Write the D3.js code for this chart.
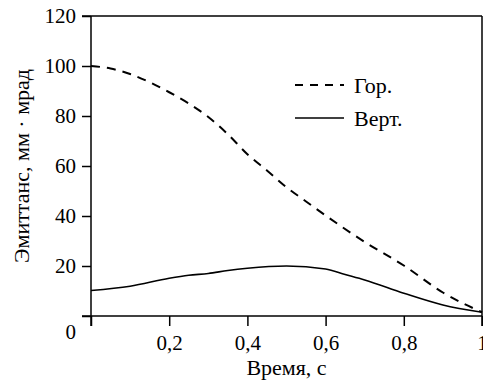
<!DOCTYPE html>
<html lang="ru">
<head>
<meta charset="UTF-8" />
<title>Эмиттанс</title>
<script src="https://cdn.jsdelivr.net/npm/d3@7"></script>
<style>
  body { margin: 0; background: #fff; }
</style>
</head>
<body>
<svg id="chart" width="483" height="387"></svg>
<script>
// Время, с
var timeHor = [0, 0.05, 0.1, 0.15, 0.2, 0.25, 0.3, 0.35, 0.4, 0.45, 0.5, 0.55, 0.6, 0.7, 0.8, 0.9, 1.0];
var horValues = [100, 99, 96.8, 93.5, 89.5, 85, 79.6, 72.7, 64.7, 58.2, 51.5, 45.8, 40.2, 29.6, 20.2, 9.4, 1.5];
var timeVert = [0, 0.1, 0.2, 0.25, 0.3, 0.35, 0.4, 0.5, 0.6, 0.65, 0.7, 0.8, 0.9, 1.0];
var vertValues = [10.2, 11.9, 15.1, 16.3, 17, 18.2, 19.1, 20, 18.8, 16.6, 14.4, 9.1, 4.4, 1.5];
var xTicks = [0, 0.2, 0.4, 0.6, 0.8, 1];
var yTicks = [0, 20, 40, 60, 80, 100, 120];
var legendNames = ["Гор.", "Верт."];

(function () {
  var svg = d3.select("#chart");
  var left = 91, right = 482, top = 16, bottom = 316;
  var serif = "'Liberation Serif', 'Times New Roman', Times, 'DejaVu Serif', serif";

  var x = d3.scaleLinear().domain([0, 1]).range([left, right]);
  var y = d3.scaleLinear().domain([0, 120]).range([bottom, top]);
  var ru = d3.formatLocale({ decimal: ",", thousands: " ", grouping: [3], currency: ["", ""] });
  var fmt = ru.format("~g");

  // top and right frame
  svg.append("line")
    .attr("x1", left - 9).attr("x2", right)
    .attr("y1", top).attr("y2", top)
    .attr("stroke", "#000").attr("stroke-width", 1.5);
  svg.append("line")
    .attr("x1", right).attr("x2", right)
    .attr("y1", top).attr("y2", bottom + 10)
    .attr("stroke", "#000").attr("stroke-width", 1.5);

  var xAxis = svg.append("g")
    .attr("transform", "translate(0," + bottom + ")")
    .call(d3.axisBottom(x).tickValues(xTicks).tickSize(10).tickPadding(9)
      .tickFormat(function (d) { return d === 0 ? "" : fmt(d); }));

  var yAxis = svg.append("g")
    .attr("transform", "translate(" + left + ",0)")
    .call(d3.axisLeft(y).tickValues(yTicks).tickSize(9).tickPadding(6).tickFormat(fmt));

  [xAxis, yAxis].forEach(function (g) {
    g.select(".domain").remove();
    g.selectAll("line").attr("stroke", "#000").attr("stroke-width", 1.5);
    g.selectAll("text").style("font-family", serif).style("font-size", "21px");
  });
  // axis lines themselves
  svg.append("line")
    .attr("x1", left - 9).attr("x2", right).attr("y1", bottom).attr("y2", bottom)
    .attr("stroke", "#000").attr("stroke-width", 1.5);
  svg.append("line")
    .attr("x1", left).attr("x2", left).attr("y1", top).attr("y2", bottom + 10)
    .attr("stroke", "#000").attr("stroke-width", 1.5);

  // origin label sits below the axis
  yAxis.selectAll(".tick").filter(function (d) { return d === 0; })
    .select("text").attr("y", 16);

  var line = d3.line()
    .x(function (d) { return x(d[0]); })
    .y(function (d) { return y(d[1]); })
    .curve(d3.curveMonotoneX);

  svg.append("path")
    .datum(d3.zip(timeHor, horValues))
    .attr("d", line)
    .attr("fill", "none").attr("stroke", "#000")
    .attr("stroke-width", 2).attr("stroke-dasharray", "9,7");

  svg.append("path")
    .datum(d3.zip(timeVert, vertValues))
    .attr("d", line)
    .attr("fill", "none").attr("stroke", "#000")
    .attr("stroke-width", 1.6);

  // legend
  var leg = svg.append("g").attr("transform", "translate(295,85)");
  legendNames.forEach(function (name, i) {
    var row = leg.append("g").attr("transform", "translate(0," + i * 33 + ")");
    row.append("line")
      .attr("x1", 0).attr("x2", 49).attr("y1", 0).attr("y2", 0)
      .attr("stroke", "#000")
      .attr("stroke-width", i === 0 ? 2 : 1.6)
      .attr("stroke-dasharray", i === 0 ? "8,7" : null);
    row.append("text")
      .attr("x", 59).attr("y", 8)
      .style("font-family", serif)
      .style("font-size", "22px")
      .text(name);
  });

  // axis titles
  svg.append("text")
    .attr("x", (left + right) / 2).attr("y", 375)
    .attr("text-anchor", "middle")
    .style("font-family", serif)
    .style("font-size", "22px")
    .text("Время, с");

  svg.append("text")
    .attr("transform", "translate(29,166) rotate(-90)")
    .attr("text-anchor", "middle")
    .style("font-family", serif)
    .style("font-size", "22px")
    .text("Эмиттанс, мм · мрад");
})();
</script>
</body>
</html>
